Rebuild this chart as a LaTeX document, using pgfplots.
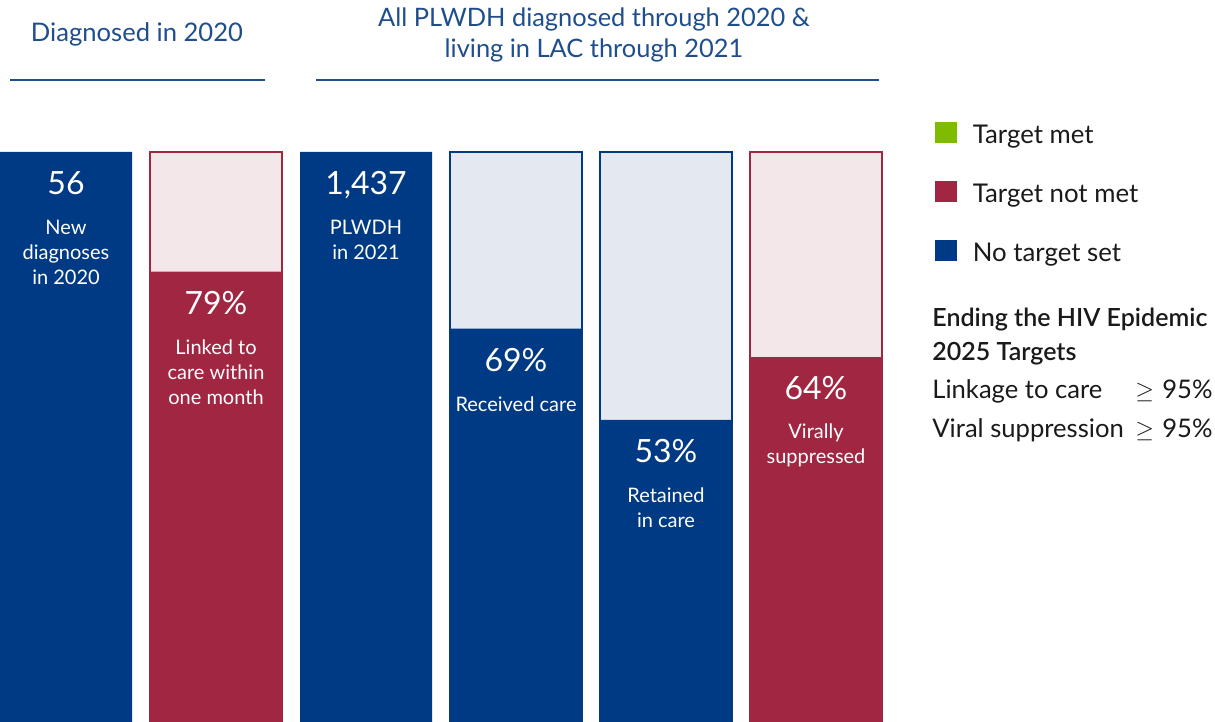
\documentclass[border=0pt]{standalone}
\usepackage{fontspec}
\setmainfont{Lato}
\newfontfamily\semibold{Lato Semibold}
\usepackage{pgfplots}
\pgfplotsset{compat=1.18}
\definecolor{cblue}{HTML}{003A84}
\definecolor{cred}{HTML}{A12642}
\definecolor{lpink}{HTML}{F3E7EA}
\definecolor{lblue}{HTML}{E4E8F1}
\definecolor{tgreen}{HTML}{7FBC00}
\definecolor{tblue}{HTML}{1F4E8C}
\definecolor{tdark}{HTML}{1A1A1A}
\begin{document}
\begin{tikzpicture}
\useasboundingbox (0,0) rectangle (607.5pt,361pt);
\begin{axis}[at={(0,0)}, anchor=south west, scale only axis,
  width=441pt, height=285pt,
  xmin=-0.44, xmax=5.44, ymin=0, ymax=100,
  axis lines=none, clip=false,
  legend style={at={(1.0601,1.0535)}, anchor=north west, draw=none, fill=none,
    inner sep=0pt, outer sep=0pt, row sep=15.3pt,
    font=\fontsize{12.9}{14}\selectfont, text=tdark,
    nodes={inner sep=0pt, text height=10pt, text depth=3pt},
    /tikz/every odd column/.append style={column sep=8pt}},
  legend cell align=left]
\addplot[ybar, bar shift=0pt, bar width=0.88, fill=lpink, draw=cred, line width=0.75pt, forget plot] coordinates {(1,100) (5,100)};
\addplot[ybar, bar shift=0pt, bar width=0.88, fill=lblue, draw=cblue, line width=0.75pt, forget plot] coordinates {(3,100) (4,100)};
\addplot[ybar, bar shift=0pt, bar width=0.88, fill=cblue, draw=none, forget plot] coordinates {(0,100) (2,100) (3,69) (4,53)};
\addplot[ybar, bar shift=0pt, bar width=0.88, fill=cred, draw=none, forget plot] coordinates {(1,79) (5,64)};
\addlegendimage{legend image code/.code={\fill[tgreen] (0pt,-2.5pt) rectangle (10.5pt,7.5pt);}}
\addlegendentry{Target met}
\addlegendimage{legend image code/.code={\fill[cred] (0pt,-2.5pt) rectangle (10.5pt,7.5pt);}}
\addlegendentry{Target not met}
\addlegendimage{legend image code/.code={\fill[cblue] (0pt,-2.5pt) rectangle (10.5pt,7.5pt);}}
\addlegendentry{No target set}
% bar texts
\begin{scope}[every node/.style={text=white, anchor=base, align=center}]
\node[font=\fontsize{16}{18}\selectfont, yshift=-21.25pt] at (axis cs:0,100) {56};
\node[font=\fontsize{10}{12.5}\selectfont, yshift=-66.5pt] at (axis cs:0,100) {New\\diagnoses\\in 2020};
\node[font=\fontsize{16}{18}\selectfont, yshift=-21.25pt] at (axis cs:1,79) {79\%};
\node[font=\fontsize{10}{12.5}\selectfont, yshift=-66.5pt] at (axis cs:1,79) {Linked to\\care within\\one month};
\node[font=\fontsize{16}{18}\selectfont, yshift=-21.25pt] at (axis cs:2,100) {1,437};
\node[font=\fontsize{10}{12.5}\selectfont, yshift=-54pt] at (axis cs:2,100) {PLWDH\\in 2021};
\node[font=\fontsize{16}{18}\selectfont, yshift=-21.25pt] at (axis cs:3,69) {69\%};
\node[font=\fontsize{10}{12.5}\selectfont, yshift=-41.5pt] at (axis cs:3,69) {Received care};
\node[font=\fontsize{16}{18}\selectfont, yshift=-21.25pt] at (axis cs:4,53) {53\%};
\node[font=\fontsize{10}{12.5}\selectfont, yshift=-54pt] at (axis cs:4,53) {Retained\\in care};
\node[font=\fontsize{16}{18}\selectfont, yshift=-21.25pt] at (axis cs:5,64) {64\%};
\node[font=\fontsize{10}{12.5}\selectfont, yshift=-53pt] at (axis cs:5,64) {Virally\\suppressed};
\end{scope}
\end{axis}
% titles
\node[anchor=base, font=\fontsize{12.8}{15}\selectfont, text=tblue, inner sep=0pt] at (68.5pt,340.15pt) {Diagnosed in 2020};
\node[anchor=base, font=\fontsize{12.7}{15}\selectfont, text=tblue, inner sep=0pt] at (297pt,347.65pt) {All PLWDH diagnosed through 2020 \&};
\node[anchor=base, font=\fontsize{12.7}{15}\selectfont, text=tblue, inner sep=0pt] at (297pt,332.35pt) {living in LAC through 2021};
\draw[tblue, line width=1pt] (5pt,321pt) -- (132.5pt,321pt);
\draw[tblue, line width=1pt] (158pt,321pt) -- (439.5pt,321pt);
% targets
\begin{scope}[every node/.style={inner sep=0pt, text=tdark}]
\node[anchor=base west, font=\semibold\fontsize{12.5}{15}\selectfont] at (466pt,197.5pt) {Ending the HIV Epidemic};
\node[anchor=base west, font=\semibold\fontsize{12.5}{15}\selectfont] at (466pt,180.65pt) {2025 Targets};
\node[anchor=base west, font=\fontsize{12.8}{14}\selectfont] at (466pt,161.5pt) {Linkage to care};
\node[anchor=base west, font=\fontsize{12.8}{14}\selectfont] at (466pt,142pt) {Viral suppression};
\node[anchor=base west, font=\fontsize{12.8}{14}\selectfont] at (567.5pt,161.5pt) {$\geq$};
\node[anchor=base west, font=\fontsize{12.8}{14}\selectfont] at (567.5pt,142pt) {$\geq$};
\node[anchor=base east, font=\fontsize{12.8}{14}\selectfont] at (606.5pt,161.5pt) {95\%};
\node[anchor=base east, font=\fontsize{12.8}{14}\selectfont] at (606.5pt,142pt) {95\%};
\end{scope}
\end{tikzpicture}
\end{document}
